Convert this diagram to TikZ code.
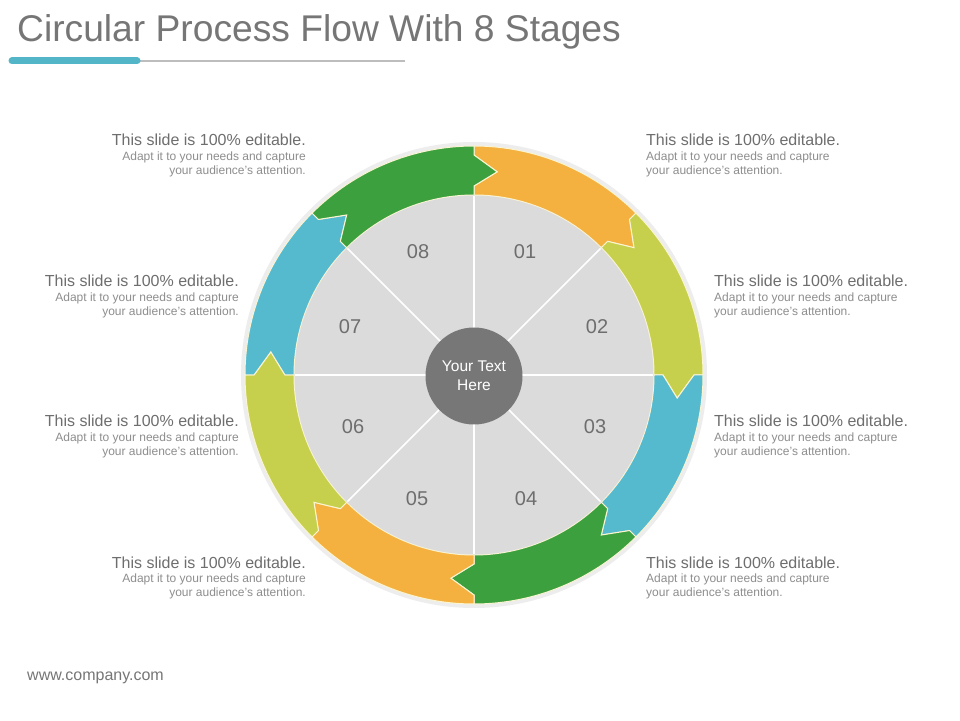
\documentclass[tikz,border=0pt]{standalone}
\usepackage{fontspec}
\setmainfont{Liberation Sans}
\definecolor{segorange}{HTML}{F4B13F}
\definecolor{seglime}{HTML}{C6D04D}
\definecolor{segblue}{HTML}{56BACF}
\definecolor{seggreen}{HTML}{3DA03F}
\definecolor{edgeline}{HTML}{FBF5D2}
\definecolor{discgrey}{HTML}{DBDBDB}
\definecolor{hubgrey}{HTML}{777777}
\definecolor{titlegrey}{HTML}{767676}
\definecolor{headgrey}{HTML}{6E6E6E}
\definecolor{subgrey}{HTML}{8E8E8E}
\definecolor{rulegrey}{HTML}{BDBDBD}
\definecolor{accent}{HTML}{53B5C8}
% one arrow of the ring, from angle #1 clockwise over 45 degrees, colour #2
\newcommand{\stagearrow}[2]{%
\fill[#2, draw=edgeline, line width=1pt, line join=miter]
  (#1:229) arc[start angle=#1, end angle=#1-45, radius=229]
  -- (#1-45:220) -- (#1-51.5:204.5) -- (#1-45:189) -- (#1-45:180)
  arc[start angle=#1-45, end angle=#1, radius=180]
  -- (#1:189) -- (#1-6.5:204.5) -- (#1:220) -- cycle;}

\begin{document}
\begin{tikzpicture}[x=1pt,y=1pt,
  headtxt/.style={font=\fontsize{16}{19}\selectfont, text=headgrey, inner sep=0},
  subtxt/.style={font=\fontsize{12}{14}\selectfont, text=subgrey, inner sep=0},
  stagenum/.style={font=\fontsize{20}{24}\selectfont, text=headgrey},
  spoke/.style={white, line width=1.6pt}]
\useasboundingbox[fill=white] (0,0) rectangle (960,720);

% title
\node[anchor=base west, inner sep=0, font=\fontsize{37.2}{44}\selectfont, text=titlegrey] (title) at (17,678) {Circular Process Flow With 8 Stages};
\draw[rulegrey, line width=2pt] (140,659) -- (405,659);
\draw[accent, line width=7pt, line cap=round] (12,659) -- (137,659);

% ring
\begin{scope}[shift={(474,345)}]
\draw[black!7, line width=4pt] (0,0) circle (231);
\stagearrow{90}{segorange}
\stagearrow{45}{seglime}
\stagearrow{0}{segblue}
\stagearrow{-45}{seggreen}
\stagearrow{-90}{segorange}
\stagearrow{-135}{seglime}
\stagearrow{-180}{segblue}
\stagearrow{-225}{seggreen}
\fill[discgrey] (0,0) circle (179.5);
\draw[spoke] (90:179) -- (270:179);
\draw[spoke] (0:179) -- (180:179);
\draw[spoke] (45:179) -- (225:179);
\draw[spoke] (135:179) -- (315:179);
\node[circle, fill=hubgrey, minimum size=97pt, inner sep=0, align=center, text=white,
  font=\fontsize{15.5}{19}\selectfont] (hub) at (0,-1) {Your Text\\Here};
\node[stagenum] (n01) at (51,123) {01};
\node[stagenum] (n02) at (123,48) {02};
\node[stagenum] (n03) at (121,-52) {03};
\node[stagenum] (n04) at (52,-124) {04};
\node[stagenum] (n05) at (-57,-124) {05};
\node[stagenum] (n06) at (-121,-52) {06};
\node[stagenum] (n07) at (-124,48) {07};
\node[stagenum] (n08) at (-56,123) {08};
\end{scope}

% right side texts
\node[headtxt, anchor=base west] (h1) at (646,574) {This slide is 100\% editable.};
\node[subtxt, anchor=north west, align=left] (s1) at ([yshift=-6pt]h1.base west) {Adapt it to your needs and capture\\your audience's attention.};
\node[headtxt, anchor=base west] (h2) at (714,433) {This slide is 100\% editable.};
\node[subtxt, anchor=north west, align=left] (s2) at ([yshift=-6pt]h2.base west) {Adapt it to your needs and capture\\your audience's attention.};
\node[headtxt, anchor=base west] (h3) at (714,293) {This slide is 100\% editable.};
\node[subtxt, anchor=north west, align=left] (s3) at ([yshift=-6pt]h3.base west) {Adapt it to your needs and capture\\your audience's attention.};
\node[headtxt, anchor=base west] (h4) at (646,152) {This slide is 100\% editable.};
\node[subtxt, anchor=north west, align=left] (s4) at ([yshift=-6pt]h4.base west) {Adapt it to your needs and capture\\your audience's attention.};

% left side texts
\node[headtxt, anchor=base east] (h5) at (306,152) {This slide is 100\% editable.};
\node[subtxt, anchor=north east, align=right] (s5) at ([yshift=-6pt]h5.base east) {Adapt it to your needs and capture\\your audience's attention.};
\node[headtxt, anchor=base east] (h6) at (239,293) {This slide is 100\% editable.};
\node[subtxt, anchor=north east, align=right] (s6) at ([yshift=-6pt]h6.base east) {Adapt it to your needs and capture\\your audience's attention.};
\node[headtxt, anchor=base east] (h7) at (239,433) {This slide is 100\% editable.};
\node[subtxt, anchor=north east, align=right] (s7) at ([yshift=-6pt]h7.base east) {Adapt it to your needs and capture\\your audience's attention.};
\node[headtxt, anchor=base east] (h8) at (306,574) {This slide is 100\% editable.};
\node[subtxt, anchor=north east, align=right] (s8) at ([yshift=-6pt]h8.base east) {Adapt it to your needs and capture\\your audience's attention.};

\node[anchor=base west, inner sep=0, font=\fontsize{16}{18}\selectfont, text=titlegrey] (web) at (27,40) {www.company.com};
\end{tikzpicture}
\end{document}
